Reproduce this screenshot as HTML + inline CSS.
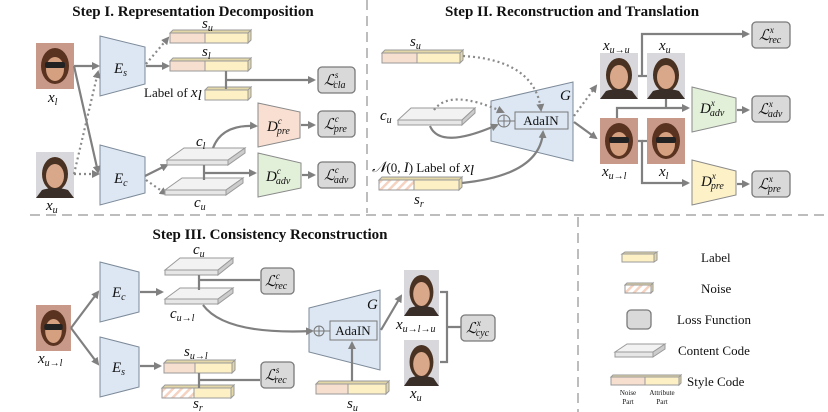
<!DOCTYPE html>
<html><head><meta charset="utf-8"><style>
html,body{margin:0;padding:0;background:#fff}
svg{display:block}
.t{font-family:"Liberation Serif",serif;font-weight:bold;font-size:15px;fill:#111}
.m{font-family:"Liberation Serif",serif;font-style:italic;font-size:15px;fill:#111}
.n{font-family:"Liberation Serif",serif;font-size:13px;fill:#111}
.sm{font-family:"Liberation Serif",serif;font-size:7px;fill:#111}
.ln{stroke:#808080;stroke-width:2.2;fill:none}
.dt{stroke:#8a8a8a;stroke-width:2.2;fill:none;stroke-dasharray:2 3}
.ls{fill:#d9d9d9;stroke:#7a7a7a;stroke-width:1.3}
.enc{fill:#dce7f3;stroke:#7d8a99;stroke-width:1}
.dsh{stroke:#bdbdbd;stroke-width:2;stroke-dasharray:10 6;fill:none}
</style></head><body>
<svg width="828" height="412" viewBox="0 0 828 412" xmlns="http://www.w3.org/2000/svg">
<defs>
<marker id="a" markerWidth="8" markerHeight="8" refX="6" refY="4" orient="auto" markerUnits="userSpaceOnUse"><path d="M0,0 L8,4 L0,8 z" fill="#808080"/></marker>
<pattern id="h" width="6" height="6" patternUnits="userSpaceOnUse" patternTransform="rotate(45)"><rect width="6" height="6" fill="#fff"/><rect width="2.5" height="6" fill="#f6d2c0"/></pattern>
<g id="face"><rect width="38" height="46" fill="#d8d8dc"/><ellipse cx="19" cy="22" rx="13" ry="17" fill="#4a3222"/><ellipse cx="19" cy="24" rx="9" ry="12" fill="#d9a88a"/><path d="M0,46 L6,38 Q19,34 32,38 L38,46z" fill="#3a2e28"/></g>
<g id="faceg"><rect width="38" height="46" fill="#c89888"/><ellipse cx="19" cy="23" rx="14" ry="18" fill="#5a3320"/><ellipse cx="19" cy="26" rx="9" ry="12" fill="#d4a080"/><rect x="9" y="19" width="20" height="6" rx="2" fill="#222"/></g>
</defs>

<path class="dsh" d="M367,0 V213"/>
<path class="dsh" d="M30,215 H828"/>
<path class="dsh" d="M578,217 V412"/>

<!-- ===== STEP I ===== -->
<text class="t" x="193" y="16" text-anchor="middle">Step I. Representation Decomposition</text>
<use href="#faceg" x="36" y="43"/>
<use href="#face" x="36" y="152"/>
<text class="m" x="48" y="102">x<tspan font-size="10" dy="3">l</tspan></text>
<text class="m" x="46" y="210">x<tspan font-size="10" dy="3">u</tspan></text>

<path class="enc" d="M100,36 L145,47 L145,84 L100,96z"/>
<text class="m" x="114" y="73">E<tspan font-size="10" dy="3">s</tspan></text>
<path class="enc" d="M100,145 L145,157 L145,193 L100,205z"/>
<text class="m" x="114" y="183">E<tspan font-size="10" dy="3">c</tspan></text>

<path class="ln" d="M74,66 H98" marker-end="url(#a)"/>
<path class="ln" d="M74,66 L98,172" marker-end="url(#a)"/>
<path class="dt" d="M74,174 H98" marker-end="url(#a)"/>
<path class="dt" d="M74,174 L98,72" marker-end="url(#a)"/>
<path class="dt" d="M146,64 L168,38" marker-end="url(#a)"/>
<path class="ln" d="M146,66 H168" marker-end="url(#a)"/>
<path class="ln" d="M145,176 L167,165" marker-end="url(#a)"/>
<path class="dt" d="M146,180 L166,194" marker-end="url(#a)"/>

<g stroke="#9a9a9a" stroke-width="1">
<rect x="170" y="33" width="35" height="10" fill="#f7dfd0"/><rect x="205" y="33" width="43" height="10" fill="#fdf0c5"/><path d="M170,33 L173,30 L251,30 L248,33z M248,33 L251,30 L251,40 L248,43z" fill="#e3d7a8"/>
<rect x="170" y="61" width="35" height="10" fill="#f7dfd0"/><rect x="205" y="61" width="43" height="10" fill="#fdf0c5"/><path d="M170,61 L173,58 L251,58 L248,61z M248,61 L251,58 L251,68 L248,71z" fill="#e3d7a8"/>
<rect x="205" y="90" width="43" height="10" fill="#fdf0c5"/><path d="M205,90 L208,87 L251,87 L248,90z M248,90 L251,87 L251,97 L248,100z" fill="#e3d7a8"/>
</g>
<text class="m" x="202" y="28">s<tspan font-size="10" dy="3">u</tspan></text>
<text class="m" x="202" y="56">s<tspan font-size="10" dy="3">l</tspan></text>
<text class="n" x="144" y="97">Label of <tspan class="m">x</tspan><tspan class="m" font-size="10" dy="3">l</tspan></text>
<path class="ln" d="M226,71 V89 M226,80 H314" marker-end="url(#a)"/>
<rect class="ls" x="318" y="67" width="37" height="26" rx="4"/>
<text class="m" x="324" y="85">ℒ<tspan font-size="9" dy="-7">s</tspan><tspan font-size="10" dx="-5" dy="10">cla</tspan></text>

<g stroke="#9a9a9a" stroke-width="1">
<path d="M167,160 L184,148 L245,148 L228,160z" fill="#f2f2f2"/><path d="M167,160 H228 V165 H167z" fill="#e6e6e6"/><path d="M228,160 L245,148 V153 L228,165z" fill="#ccc"/>
<path d="M165,190 L182,178 L243,178 L226,190z" fill="#f2f2f2"/><path d="M165,190 H226 V195 H165z" fill="#e6e6e6"/><path d="M226,190 L243,178 V183 L226,195z" fill="#ccc"/>
</g>
<text class="m" x="196" y="146">c<tspan font-size="10" dy="3">l</tspan></text>
<text class="m" x="194" y="207">c<tspan font-size="10" dy="3">u</tspan></text>
<path class="ln" d="M213,148 Q222,124 256,126" marker-end="url(#a)"/>
<path class="ln" d="M204,165 V180 M204,173 H255" marker-end="url(#a)"/>
<path d="M258,103 L300,112 L300,138 L258,147z" fill="#f9dfd1" stroke="#8a8a8a"/>
<text class="m" x="267" y="131">D<tspan font-size="9" dy="-7">c</tspan><tspan font-size="10" dx="-5" dy="10">pre</tspan></text>
<path d="M258,153 L301,163 L301,188 L258,197z" fill="#e2efd9" stroke="#8a8a8a"/>
<text class="m" x="266" y="181">D<tspan font-size="9" dy="-7">c</tspan><tspan font-size="10" dx="-5" dy="10">adv</tspan></text>
<path class="ln" d="M301,125 H314" marker-end="url(#a)"/>
<path class="ln" d="M302,175 H314" marker-end="url(#a)"/>
<rect class="ls" x="318" y="111" width="37" height="26" rx="4"/>
<text class="m" x="324" y="129">ℒ<tspan font-size="9" dy="-7">c</tspan><tspan font-size="10" dx="-5" dy="10">pre</tspan></text>
<rect class="ls" x="318" y="162" width="37" height="26" rx="4"/>
<text class="m" x="324" y="180">ℒ<tspan font-size="9" dy="-7">c</tspan><tspan font-size="10" dx="-5" dy="10">adv</tspan></text>

<!-- ===== STEP II ===== -->
<text class="t" x="572" y="16" text-anchor="middle">Step II. Reconstruction and Translation</text>
<g stroke="#9a9a9a" stroke-width="1">
<rect x="382" y="53" width="35" height="10" fill="#f7dfd0"/><rect x="417" y="53" width="43" height="10" fill="#fdf0c5"/><path d="M382,53 L385,50 L463,50 L460,53z M460,53 L463,50 L463,60 L460,63z" fill="#e3d7a8"/>
<rect x="379" y="180" width="35" height="10" fill="url(#h)"/><rect x="414" y="180" width="45" height="10" fill="#fdf0c5"/><path d="M379,180 L382,177 L462,177 L459,180z M459,180 L462,177 L462,187 L459,190z" fill="#e3d7a8"/>
<path d="M398,120 L411,108 L475,108 L462,120z" fill="#f2f2f2"/><path d="M398,120 H462 V125 H398z" fill="#e6e6e6"/><path d="M462,120 L475,108 V113 L462,125z" fill="#ccc"/>
</g>
<text class="m" x="410" y="46">s<tspan font-size="10" dy="3">u</tspan></text>
<text class="m" x="380" y="120">c<tspan font-size="10" dy="3">u</tspan></text>
<text class="n" x="372" y="172"><tspan class="m">𝒩</tspan>(0, <tspan class="m">I</tspan>)  Label of <tspan class="m">x</tspan><tspan class="m" font-size="10" dy="3">l</tspan></text>
<text class="m" x="414" y="204">s<tspan font-size="10" dy="3">r</tspan></text>
<path class="enc" d="M491,101 L573,82 L573,161 L491,141z"/>
<text class="m" x="560" y="100" font-size="13">G</text>
<rect x="515" y="112" width="53" height="17" fill="#dce7f3" stroke="#7a7a7a"/>
<text class="n" x="541" y="125" text-anchor="middle">AdaIN</text>
<circle cx="504" cy="121" r="6" fill="none" stroke="#777"/><path d="M498,121 H510 M504,115 V127" stroke="#777"/>
<path d="M510,121 H515" stroke="#777"/>
<path class="dt" d="M463,56 Q535,60 541,110" marker-end="url(#a)"/>
<path class="dt" d="M434,110 Q450,88 503,112" marker-end="url(#a)"/>
<path class="ln" d="M430,126 Q440,150 497,125" marker-end="url(#a)"/>
<path class="ln" d="M462,183 Q540,175 543,132" marker-end="url(#a)"/>
<path class="dt" d="M574,116 L596,86" marker-end="url(#a)"/>
<path class="ln" d="M574,122 L596,138" marker-end="url(#a)"/>
<use href="#face" x="600" y="53"/>
<use href="#face" x="647" y="53"/>
<use href="#faceg" x="600" y="118"/>
<use href="#faceg" x="647" y="118"/>
<text class="m" x="603" y="50">x<tspan font-size="10" dy="3">u→u</tspan></text>
<text class="m" x="659" y="50">x<tspan font-size="10" dy="3">u</tspan></text>
<text class="m" x="602" y="176">x<tspan font-size="10" dy="3">u→l</tspan></text>
<text class="m" x="659" y="176">x<tspan font-size="10" dy="3">l</tspan></text>
<path class="ln" d="M638,76 H642 M642,76 V34 H748" marker-end="url(#a)"/>
<path class="ln" d="M642,76 H647"/>
<path class="ln" d="M617,118 V108 H688" marker-end="url(#a)"/>
<path class="ln" d="M666,99 V108"/>
<path class="ln" d="M638,141 H642 V183 H688" marker-end="url(#a)"/>
<path class="ln" d="M642,141 H647"/>
<path d="M692,87 L736,98 L736,122 L692,132z" fill="#e2efd9" stroke="#8a8a8a"/>
<text class="m" x="700" y="113">D<tspan font-size="9" dy="-7">x</tspan><tspan font-size="10" dx="-5" dy="10">adv</tspan></text>
<path d="M692,160 L736,171 L736,195 L692,205z" fill="#fdf1c8" stroke="#8a8a8a"/>
<text class="m" x="701" y="186">D<tspan font-size="9" dy="-7">x</tspan><tspan font-size="10" dx="-5" dy="10">pre</tspan></text>
<path class="ln" d="M737,110 H748" marker-end="url(#a)"/>
<path class="ln" d="M737,184 H748" marker-end="url(#a)"/>
<rect class="ls" x="752" y="22" width="38" height="26" rx="4"/>
<text class="m" x="759" y="40">ℒ<tspan font-size="9" dy="-7">x</tspan><tspan font-size="10" dx="-5" dy="10">rec</tspan></text>
<rect class="ls" x="752" y="96" width="38" height="26" rx="4"/>
<text class="m" x="758" y="114">ℒ<tspan font-size="9" dy="-7">x</tspan><tspan font-size="10" dx="-5" dy="10">adv</tspan></text>
<rect class="ls" x="752" y="171" width="38" height="26" rx="4"/>
<text class="m" x="758" y="189">ℒ<tspan font-size="9" dy="-7">x</tspan><tspan font-size="10" dx="-5" dy="10">pre</tspan></text>

<!-- ===== STEP III ===== -->
<text class="t" x="270" y="239" text-anchor="middle">Step III. Consistency Reconstruction</text>
<use href="#faceg" x="36" y="305" transform="translate(36,305) scale(0.92,1) translate(-36,-305)"/>
<text class="m" x="38" y="363">x<tspan font-size="10" dy="3">u→l</tspan></text>
<path class="ln" d="M71,328 L98,292" marker-end="url(#a)"/>
<path class="ln" d="M71,328 L98,364" marker-end="url(#a)"/>
<path class="enc" d="M100,262 L139,272 L139,312 L100,322z"/>
<text class="m" x="112" y="297">E<tspan font-size="10" dy="3">c</tspan></text>
<path class="enc" d="M100,337 L139,347 L139,387 L100,397z"/>
<text class="m" x="112" y="372">E<tspan font-size="10" dy="3">s</tspan></text>
<path class="ln" d="M140,292 H162" marker-end="url(#a)"/>
<path class="ln" d="M140,366 H160" marker-end="url(#a)"/>
<g stroke="#9a9a9a" stroke-width="1">
<path d="M165,270 L180,258 L233,258 L218,270z" fill="#f2f2f2"/><path d="M165,270 H218 V275 H165z" fill="#e6e6e6"/><path d="M218,270 L233,258 V263 L218,275z" fill="#ccc"/>
<path d="M165,299 L180,288 L233,288 L218,299z" fill="#f2f2f2"/><path d="M165,299 H218 V304 H165z" fill="#e6e6e6"/><path d="M218,299 L233,288 V293 L218,304z" fill="#ccc"/>
<rect x="164" y="363" width="31" height="10" fill="#f7dfd0"/><rect x="195" y="363" width="37" height="10" fill="#fdf0c5"/><path d="M164,363 L167,360 L235,360 L232,363z M232,363 L235,360 L235,370 L232,373z" fill="#e3d7a8"/>
<rect x="162" y="388" width="32" height="10" fill="url(#h)"/><rect x="194" y="388" width="37" height="10" fill="#fdf0c5"/><path d="M162,388 L165,385 L234,385 L231,388z M231,388 L234,385 L234,395 L231,398z" fill="#e3d7a8"/>
<rect x="316" y="384" width="32" height="10" fill="#f7dfd0"/><rect x="348" y="384" width="38" height="10" fill="#fdf0c5"/><path d="M316,384 L319,381 L389,381 L386,384z M386,384 L389,381 L389,391 L386,394z" fill="#e3d7a8"/>
</g>
<text class="m" x="193" y="254">c<tspan font-size="10" dy="3">u</tspan></text>
<text class="m" x="170" y="318">c<tspan font-size="10" dy="3">u→l</tspan></text>
<text class="m" x="184" y="356">s<tspan font-size="10" dy="3">u→l</tspan></text>
<text class="m" x="193" y="408">s<tspan font-size="10" dy="3">r</tspan></text>
<text class="m" x="347" y="408">s<tspan font-size="10" dy="3">u</tspan></text>
<path class="ln" d="M199,275 V290 M199,280 H260"/>
<path class="ln" d="M199,373 V388 M199,380 H260"/>
<rect class="ls" x="261" y="268" width="33" height="26" rx="4"/>
<text class="m" x="265" y="286">ℒ<tspan font-size="9" dy="-7">c</tspan><tspan font-size="10" dx="-5" dy="10">rec</tspan></text>
<rect class="ls" x="261" y="362" width="33" height="26" rx="4"/>
<text class="m" x="265" y="380">ℒ<tspan font-size="9" dy="-7">s</tspan><tspan font-size="10" dx="-5" dy="10">rec</tspan></text>
<path class="enc" d="M309,308 L380,290 L380,370 L309,352z"/>
<text class="m" x="367" y="309" font-size="13">G</text>
<rect x="330" y="321" width="47" height="19" fill="#dce7f3" stroke="#7a7a7a"/>
<text class="n" x="353" y="335" text-anchor="middle">AdaIN</text>
<circle cx="319" cy="331" r="5" fill="none" stroke="#777"/><path d="M314,331 H324 M319,326 V336 M324,331 H330" stroke="#777"/>
<path class="ln" d="M203,305 Q225,335 312,331" marker-end="url(#a)"/>
<path class="ln" d="M352,381 V343" marker-end="url(#a)"/>
<path class="ln" d="M381,330 L401,296" marker-end="url(#a)"/>
<use href="#face" x="404" y="270" transform="translate(404,270) scale(0.92,1) translate(-404,-270)"/>
<use href="#face" x="404" y="340" transform="translate(404,340) scale(0.92,1) translate(-404,-340)"/>
<text class="m" x="396" y="329">x<tspan font-size="10" dy="3">u→l→u</tspan></text>
<text class="m" x="410" y="398">x<tspan font-size="10" dy="3">u</tspan></text>
<path class="ln" d="M440,292 H447 V362 H440 M447,327 H461"/>
<rect class="ls" x="461" y="315" width="34" height="26" rx="4"/>
<text class="m" x="466" y="333">ℒ<tspan font-size="9" dy="-7">x</tspan><tspan font-size="10" dx="-5" dy="10">cyc</tspan></text>

<!-- ===== LEGEND ===== -->
<g stroke="#9a9a9a" stroke-width="1">
<rect x="622" y="254" width="32" height="8" fill="#fdf0c5"/><path d="M622,254 L625,252 L657,252 L654,254z M654,254 L657,252 L657,260 L654,262z" fill="#e3d7a8"/>
<rect x="625" y="285" width="26" height="8" fill="url(#h)"/><path d="M625,285 L627,283 L653,283 L651,285z M651,285 L653,283 L653,291 L651,293z" fill="#e3d7a8"/>
<path d="M615,352 L627,344 L665,344 L653,352z" fill="#f2f2f2"/><path d="M615,352 H653 V357 H615z" fill="#e6e6e6"/><path d="M653,352 L665,344 V349 L653,357z" fill="#ccc"/>
<rect x="611" y="377" width="34" height="8" fill="#f7dfd0"/><rect x="645" y="377" width="34" height="8" fill="#fdf0c5"/><path d="M611,377 L613,375 L681,375 L679,377z M679,377 L681,375 L681,383 L679,385z" fill="#e3d7a8"/>
</g>
<rect class="ls" x="627" y="310" width="24" height="19" rx="4"/>
<text class="n" x="701" y="262">Label</text>
<text class="n" x="701" y="293">Noise</text>
<text class="n" x="677" y="324">Loss Function</text>
<text class="n" x="678" y="355">Content Code</text>
<text class="n" x="687" y="386">Style Code</text>
<text class="sm" x="628" y="395" text-anchor="middle">Noise</text>
<text class="sm" x="628" y="404" text-anchor="middle">Part</text>
<text class="sm" x="662" y="395" text-anchor="middle">Attribute</text>
<text class="sm" x="662" y="404" text-anchor="middle">Part</text>
</svg>
</body></html>
